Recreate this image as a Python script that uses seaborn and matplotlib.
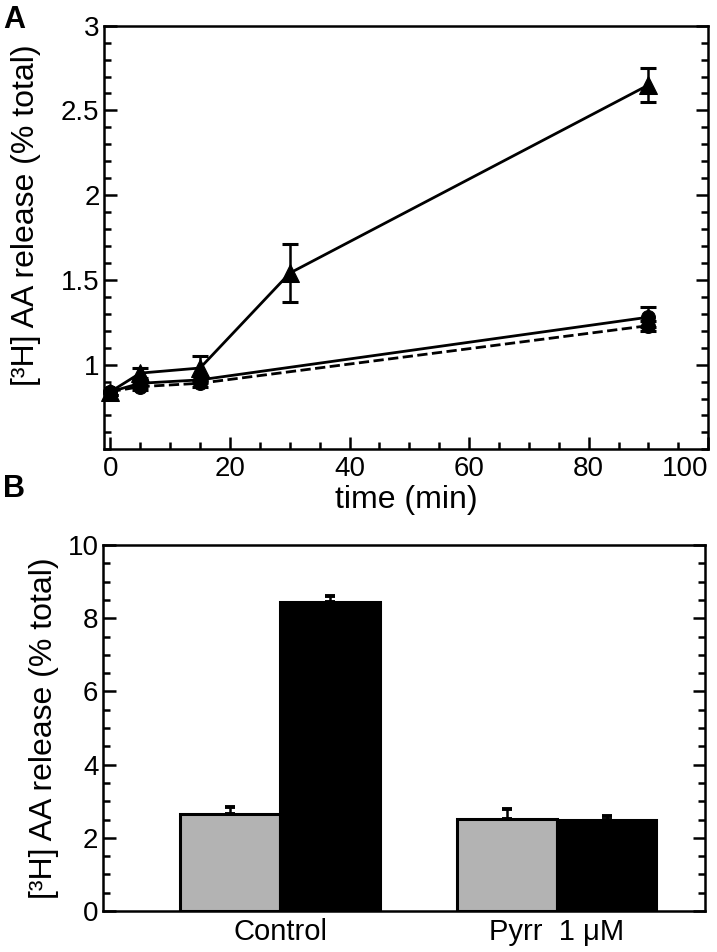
import numpy as np
import pandas as pd
import matplotlib
matplotlib.use("Agg")
import matplotlib.pyplot as plt
import seaborn as sns
from matplotlib.ticker import MultipleLocator

# panel A: time course
time_tri = [0, 5, 15, 30, 90]
aa_tri = [0.84, 0.95, 0.98, 1.54, 2.65]
err_tri = [0.02, 0.03, 0.07, 0.17, 0.10]

time_circ = [0, 5, 15, 90]
aa_circ = [0.84, 0.89, 0.91, 1.28]
err_circ = [0.02, 0.02, 0.02, 0.06]

time_dash = [0, 5, 15, 90]
aa_dash = [0.84, 0.87, 0.89, 1.23]
err_dash = [0.02, 0.02, 0.02, 0.03]

x_ticks = [0, 20, 40, 60, 80, 100]
y_ticks_a = [1, 1.5, 2, 2.5, 3]

# panel B: bars
groups = ["Control", "Pyrr  1 μM"]
treat = ["vehicle", "stim"]
bar_vals = [2.65, 8.45, 2.52, 2.50]
bar_errs = [0.20, 0.15, 0.28, 0.10]

sns.set_style("white")
plt.rcParams['font.family'] = ['Liberation Sans', 'DejaVu Sans']
plt.rcParams['text.color'] = 'black'
plt.rcParams['axes.labelcolor'] = 'black'
plt.rcParams['xtick.color'] = 'black'
plt.rcParams['ytick.color'] = 'black'

ylab = "[³H] AA release (% total)"
tick_fs = 20
lab_fs = 23

fig = plt.figure(figsize=(7.17, 9.52), dpi=100)
axA = fig.add_axes([0.1457, 0.528, 0.842, 0.445])
axB = fig.add_axes([0.144, 0.043, 0.839, 0.3845])

lw = 2.0
sns.lineplot(x=time_tri, y=aa_tri, ax=axA, color="black", lw=lw, marker="^",
             markersize=13, markeredgecolor="black", clip_on=False)
sns.lineplot(x=time_dash, y=aa_dash, ax=axA, color="black", lw=lw, linestyle="--",
             marker="o", markersize=10, markeredgecolor="black", clip_on=False)
sns.lineplot(x=time_circ, y=aa_circ, ax=axA, color="black", lw=lw, marker="o",
             markersize=10, markeredgecolor="black", clip_on=False)
for t, v, e in [(time_tri, aa_tri, err_tri), (time_circ, aa_circ, err_circ),
                (time_dash, aa_dash, err_dash)]:
    axA.errorbar(t, v, yerr=e, fmt="none", ecolor="black", elinewidth=1.8,
                 capsize=5.5, capthick=2.2)

axA.set_xlim(-1, 100)
axA.set_ylim(0.5, 3)
axA.set_yticks(y_ticks_a)
axA.set_yticklabels([f"{v:g}" for v in y_ticks_a])
axA.set_xticks(x_ticks)
axA.set_xticklabels([str(v) for v in x_ticks])
axA.xaxis.set_minor_locator(MultipleLocator(5))
axA.yaxis.set_minor_locator(MultipleLocator(0.1))
axA.set_xlabel("time (min)", fontsize=lab_fs, labelpad=2)
axA.set_ylabel(ylab, fontsize=lab_fs)
axA.yaxis.set_label_coords(-0.105, 0.553)

df = pd.DataFrame({
    "group": [g for g in groups for _ in treat],
    "treat": treat * len(groups),
    "value": bar_vals,
})
sns.barplot(data=df, x="group", y="value", hue="treat",
            palette=["#b3b3b3", "black"], width=0.72, edgecolor="black",
            linewidth=2.2, legend=False, ax=axB, errorbar=None)

# one-sided error bars on top of the bars
patches = sorted(axB.patches, key=lambda p: p.get_x())
xs = [p.get_x() + p.get_width() / 2 for p in patches]
axB.errorbar(xs, bar_vals, yerr=[np.zeros(len(bar_errs)), bar_errs], fmt="none",
             ecolor="black", elinewidth=1.8, capsize=3.5, capthick=2.8)

axB.set_xlim(-0.639, 1.535)
axB.set_ylim(0, 10)
axB.yaxis.set_major_locator(MultipleLocator(2))
axB.yaxis.set_minor_locator(MultipleLocator(0.5))
axB.set_xlabel("")
axB.set_ylabel(ylab, fontsize=lab_fs, labelpad=6)

for ax in (axA, axB):
    for s in ax.spines.values():
        s.set_visible(True)
        s.set_color("black")
        s.set_linewidth(1.8)
    ax.tick_params(which="major", direction="in", length=9, width=1.8,
                   labelsize=tick_fs, left=True, right=True, bottom=True, top=False)
    ax.tick_params(which="minor", direction="in", length=5, width=1.8,
                   left=True, right=True, bottom=True, top=False)
axA.tick_params(axis="x", which="major", pad=5)
axB.tick_params(axis="x", which="both", length=0, pad=5, labelsize=21)

# keep the "100" label inside the figure, as in the original
axA.xaxis.get_major_ticks()[-1].label1.set_horizontalalignment("right")

fig.text(0.004, 0.995, "A", fontsize=22, fontweight="bold", va="top", ha="left")
fig.text(0.004, 0.502, "B", fontsize=22, fontweight="bold", va="top", ha="left")

fig.savefig("out.png", dpi=100)
